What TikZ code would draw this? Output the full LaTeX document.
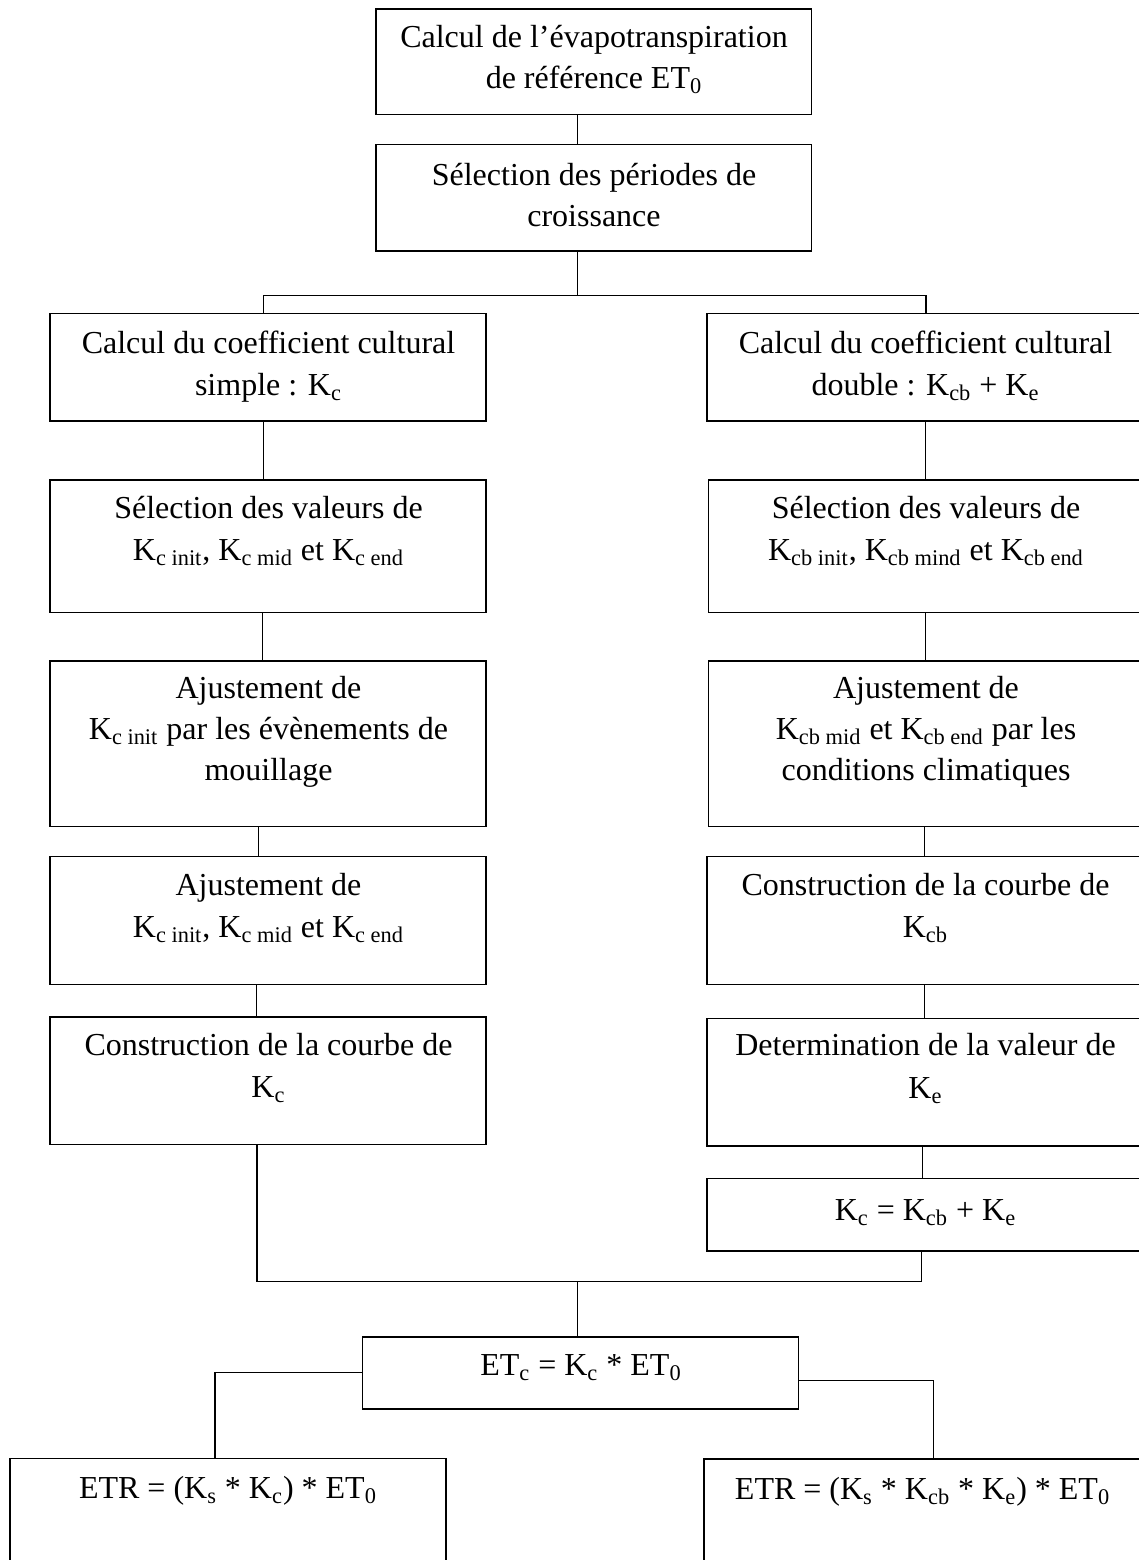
\documentclass[tikz,border=0pt]{standalone}
\usepackage{fontspec}
\setmainfont{Liberation Serif}
\newcommand\Ksub[1]{K\textsubscript{#1}}
\newcommand\mybox[5]{\node[box, minimum width={(#4-#2)*0.5pt}, minimum height={(#5-#3)*0.5pt}] (#1) at ({(#2+#4)/2},{(#3+#5)/2}) {};}
\tikzset{
  box/.style={draw=black, line width=0.8pt, inner sep=0pt, outer sep=0pt, rectangle},
  txt/.style={font=\fontsize{16}{20.75}\selectfont, inner sep=0pt, anchor=base},
  wire/.style={draw=black, line width=0.55pt},
}
\begin{document}
\begin{tikzpicture}[x=0.5pt,y=-0.5pt]
\useasboundingbox (0,0) rectangle (1139,1560);
\fill[white] (0,0) rectangle (1139,1560);
\clip (0,0) rectangle (1139,1560);

% boxes
\mybox{b1}{376}{9}{811.5}{114.3}
\mybox{b2}{376}{144.3}{811.5}{250.7}
\mybox{b3L}{50}{313.3}{486}{420.7}
\mybox{b3R}{707}{313.3}{1143.5}{420.7}
\mybox{b4L}{50}{480}{486}{612.3}
\mybox{b4R}{708.3}{480}{1143.5}{612.3}
\mybox{b5L}{50}{660.7}{486}{826.5}
\mybox{b5R}{708.3}{660.7}{1143.5}{826.5}
\mybox{b6L}{50}{856.3}{486}{984.3}
\mybox{b6R}{707}{856.3}{1143.5}{984.3}
\mybox{b7L}{50}{1016.7}{486}{1144.3}
\mybox{b7R}{707}{1018.3}{1143.5}{1146}
\mybox{b8R}{707}{1178.3}{1143.5}{1251}
\mybox{etc}{362.5}{1336.7}{798.3}{1408.7}
\mybox{etrL}{10.2}{1458.3}{446}{1620}
\mybox{etrR}{704}{1459}{1141}{1620}

% connector x positions
\coordinate (cA) at (577.5,0);
\coordinate (sp) at (577.5,295.7);
\coordinate (cL1) at (263.7,0);
\coordinate (cR1) at (926,0);
\coordinate (cL2) at (263.7,0);
\coordinate (cR2) at (925.5,0);
\coordinate (cL3) at (262.2,0);
\coordinate (cR3) at (925.5,0);
\coordinate (cL4) at (258.7,0);
\coordinate (cR4) at (924.3,0);
\coordinate (cL5) at (256.4,0);
\coordinate (cR5) at (924.7,0);
\coordinate (cR6) at (922.6,0);
\coordinate (cm1) at (257,0);
\coordinate (cm2) at (921.8,0);
\coordinate (mg) at (577.5,1281.7);
\coordinate (xL) at (215,0);
\coordinate (xR) at (933.5,0);
\coordinate (yR) at (0,1380.3);

% connectors
\draw[wire] (b1.south -| cA) -- (b2.north -| cA);
\draw[wire] (b2.south -| cA) -- (sp);
\draw[wire] (b3L.north -| cL1) |- (sp) -| (b3R.north -| cR1);
\draw[wire] (b3L.south -| cL2) -- (b4L.north -| cL2);
\draw[wire] (b3R.south -| cR2) -- (b4R.north -| cR2);
\draw[wire] (b4L.south -| cL3) -- (b5L.north -| cL3);
\draw[wire] (b4R.south -| cR3) -- (b5R.north -| cR3);
\draw[wire] (b5L.south -| cL4) -- (b6L.north -| cL4);
\draw[wire] (b5R.south -| cR4) -- (b6R.north -| cR4);
\draw[wire] (b6L.south -| cL5) -- (b7L.north -| cL5);
\draw[wire] (b6R.south -| cR5) -- (b7R.north -| cR5);
\draw[wire] (b7R.south -| cR6) -- (b8R.north -| cR6);
\draw[wire] (b7L.south -| cm1) |- (mg) -| (b8R.south -| cm2);
\draw[wire] (mg) -- (etc.north -| cA);
\draw[wire] (etc.west) -| (etrL.north -| xL);
\draw[wire] (etc.east |- yR) -| (etrR.north -| xR);

% texts
\node[txt] (t1a) at (594,47) {Calcul de l’évapotranspiration};
\node[txt] (t1b) at (594,88.5) {de référence ET\textsubscript{0}};
\node[txt] (t2a) at (594,185) {Sélection des périodes de};
\node[txt] (t2b) at (594,226) {croissance};
\node[txt] (t3La) at (268.5,353) {Calcul du coefficient cultural};
\node[txt] (t3Lb) at (268.5,395) {simple : \Ksub{c}};
\node[txt] (t3Ra) at (925.5,353) {Calcul du coefficient cultural};
\node[txt] (t3Rb) at (925.5,395) {double : \Ksub{cb} + \Ksub{e}};
\node[txt] (t4La) at (268.5,518) {Sélection des valeurs de};
\node[txt] (t4Lb) at (268.5,560) {\Ksub{c init}, \Ksub{c mid} et \Ksub{c end}};
\node[txt] (t4Ra) at (926,518) {Sélection des valeurs de};
\node[txt] (t4Rb) at (926,560) {\Ksub{cb init}, \Ksub{cb mind} et \Ksub{cb end}};
\node[txt] (t5La) at (268.5,698) {Ajustement de};
\node[txt] (t5Lb) at (268.5,739.5) {\Ksub{c init} par les évènements de};
\node[txt] (t5Lc) at (268.5,780) {mouillage};
\node[txt] (t5Ra) at (926,698) {Ajustement de};
\node[txt] (t5Rb) at (926,739.5) {\Ksub{cb mid} et \Ksub{cb end} par les};
\node[txt] (t5Rc) at (926,780) {conditions climatiques};
\node[txt] (t6La) at (268.5,895) {Ajustement de};
\node[txt] (t6Lb) at (268.5,937) {\Ksub{c init}, \Ksub{c mid} et \Ksub{c end}};
\node[txt] (t6Ra) at (925.5,895) {Construction de la courbe de};
\node[txt] (t6Rb) at (925.5,937) {\Ksub{cb}};
\node[txt] (t7La) at (268.5,1055) {Construction de la courbe de};
\node[txt] (t7Lb) at (268.5,1097) {\Ksub{c}};
\node[txt] (t7Ra) at (925.5,1055) {Determination de la valeur de};
\node[txt] (t7Rb) at (925.5,1098) {\Ksub{e}};
\node[txt] (t8R) at (925.5,1220) {\Ksub{c} = \Ksub{cb} + \Ksub{e}};
\node[txt] (tetc) at (581,1375) {ET\textsubscript{c} = \Ksub{c} * ET\textsubscript{0}};
\node[txt] (tetrL) at (228,1498) {ETR = (\Ksub{s} * \Ksub{c}) * ET\textsubscript{0}};
\node[txt] (tetrR) at (922.6,1499) {ETR = (\Ksub{s} * \Ksub{cb} * \Ksub{e}) * ET\textsubscript{0}};
\end{tikzpicture}
\end{document}
